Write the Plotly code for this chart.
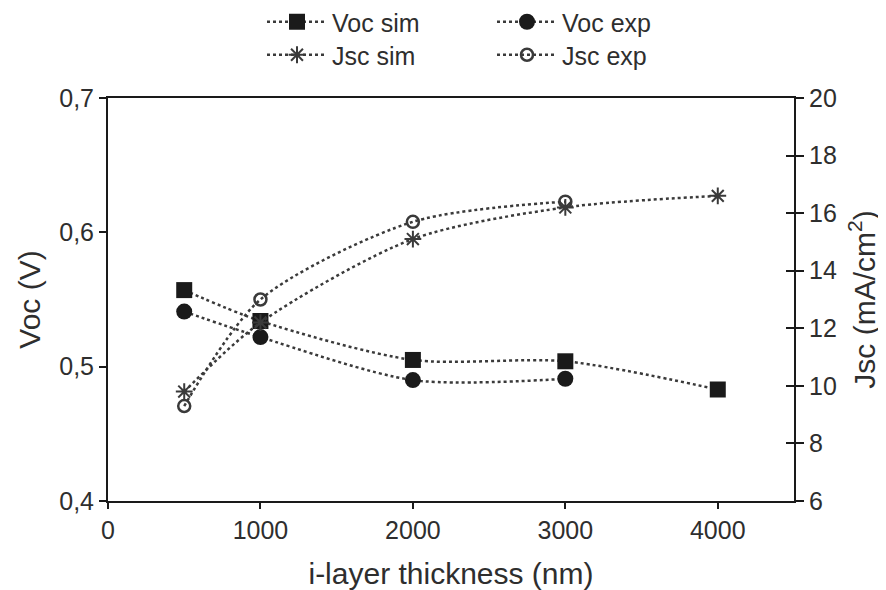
import plotly.graph_objects as go

thickness = [500, 1000, 2000, 3000, 4000]
thickness_exp = [500, 1000, 2000, 3000]
voc_sim = [0.557, 0.534, 0.505, 0.504, 0.483]
voc_exp = [0.541, 0.522, 0.490, 0.491]
jsc_sim = [9.8, 12.2, 15.1, 16.2, 16.6]
jsc_exp = [9.3, 13.0, 15.7, 16.4]

x_ticks = [0, 1000, 2000, 3000, 4000]
voc_ticks = [0.4, 0.5, 0.6, 0.7]
jsc_ticks = [6, 8, 10, 12, 14, 16, 18, 20]

FONT = "Liberation Sans, Arial, sans-serif"
TXT = "#2e2e2e"
LINE = dict(color="#3a3a3a", width=2.5, dash="dot", shape="spline", smoothing=0.8)

# page body has an 8px default margin; figure is sized to fill the rest
W, H, OFF = 878, 582, 8

fig = go.Figure()
fig.add_trace(go.Scatter(x=thickness, y=voc_sim, name="Voc sim", mode="lines+markers",
                         line=LINE, marker=dict(symbol="square", size=16, color="#1a1a1a"),
                         legend="legend", yaxis="y"))
fig.add_trace(go.Scatter(x=thickness_exp, y=voc_exp, name="Voc exp", mode="lines+markers",
                         line=LINE, marker=dict(symbol="circle", size=16, color="#1a1a1a"),
                         legend="legend", yaxis="y"))
fig.add_trace(go.Scatter(x=thickness, y=jsc_sim, name="Jsc sim", mode="lines+markers",
                         line=LINE, marker=dict(symbol="asterisk-open", size=14,
                                                line=dict(color="#1a1a1a", width=2)),
                         legend="legend2", yaxis="y2"))
fig.add_trace(go.Scatter(x=thickness_exp, y=jsc_exp, name="Jsc exp", mode="lines+markers",
                         line=LINE, marker=dict(symbol="circle-open", size=12,
                                                line=dict(color="#1a1a1a", width=2.5)),
                         legend="legend2", yaxis="y2"))
# helper axis for inner ticks on right axis
fig.add_trace(go.Scatter(x=[None], y=[None], yaxis="y3", showlegend=False, hoverinfo="skip"))

leg_common = dict(orientation="h", xref="container", yref="container",
                  xanchor="left", yanchor="middle", font=dict(family=FONT, size=25, color=TXT),
                  bgcolor="rgba(0,0,0,0)", itemwidth=60, entrywidth=155, entrywidthmode="pixels",
                  itemsizing="trace")

fig.update_layout(
    width=W, height=H,
    margin=dict(l=108 - OFF, r=92, t=98 - OFF, b=89),
    paper_bgcolor="white", plot_bgcolor="white",
    separators=",.",
    font=dict(family=FONT, size=25, color=TXT),
    legend=dict(**leg_common, x=(262 - OFF) / W, y=1 - (22 - OFF) / H),
    legend2=dict(**leg_common, x=(262 - OFF) / W, y=1 - (55 - OFF) / H),
    xaxis=dict(range=[0, 4500], tickvals=x_ticks, ticks="outside", ticklen=6, tickwidth=2,
               tickcolor="#1a1a1a", showline=True, linecolor="#1a1a1a", linewidth=2,
               mirror=True, showgrid=False, zeroline=False, automargin=False,
               title=dict(text="i-layer thickness (nm)", standoff=20),
               tickfont=dict(size=25)),
    yaxis=dict(range=[0.4, 0.7], tickvals=voc_ticks, tickformat=".1f", ticks="outside",
               ticklen=7, tickwidth=2, tickcolor="#1a1a1a", showline=True, linecolor="#1a1a1a",
               linewidth=2, showgrid=False, zeroline=False, automargin=False,
               title=dict(text="Voc (V)", standoff=10)),
    yaxis2=dict(range=[6, 20], tickvals=jsc_ticks, overlaying="y", side="right", ticks="outside",
                ticklen=8, tickwidth=2, tickcolor="#1a1a1a", showline=True, linecolor="#1a1a1a",
                linewidth=2, showgrid=False, zeroline=False, automargin=False,
                title=dict(text="Jsc (mA/cm<sup>2</sup>)", standoff=18)),
    yaxis3=dict(range=[6, 20], tickvals=jsc_ticks, overlaying="y", side="right", ticks="inside",
                ticklen=8, tickwidth=2, tickcolor="#1a1a1a", showticklabels=False,
                showline=False, showgrid=False, zeroline=False, automargin=False),
)

fig.write_html("out.html")
